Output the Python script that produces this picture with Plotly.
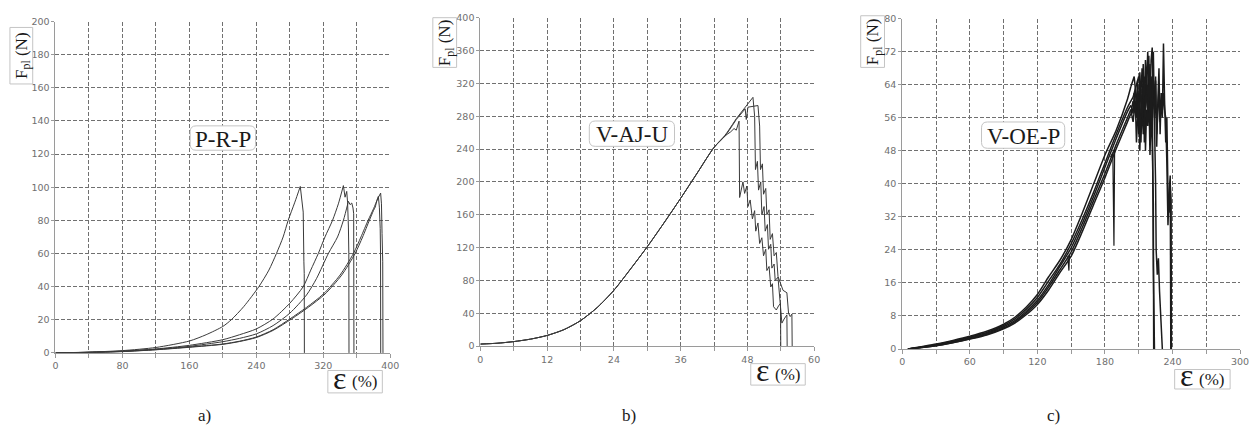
import plotly.graph_objects as go

W, H = 1252, 432

# ---------------- Panel a) P-R-P : strain (%) vs force (N) ----------------
a1_x = [0, 40, 80, 120, 160, 180, 200, 210, 225, 243, 255, 264, 272, 278, 286, 292.5, 294.5, 296, 296.8, 297.2, 297.4]
a1_y = [0, 0.5, 1.4, 3.3, 7.2, 11, 16, 20, 28, 40, 50, 60, 70, 80, 91, 100.5, 92, 85, 55, 48, 0]
a2_x = [0, 40, 80, 120, 160, 200, 220, 240, 260, 280, 296, 305, 314, 322, 331, 338, 344, 346, 348, 349, 350, 350.5,
        350.7]
a2_y = [0, 0.4, 1.1, 2.4, 4.6, 8.0, 11, 14.5, 20.5, 30, 40, 50, 60, 70, 80, 90, 101, 94, 97.5, 91, 76, 60, 0]
a3_x = [0, 40, 80, 120, 160, 200, 220, 240, 260, 280, 300, 312, 326, 337, 344, 350, 352, 354, 355.5, 356.3, 356.6]
a3_y = [0, 0.4, 1.0, 2.2, 4.0, 6.8, 8.8, 11.5, 16.5, 24, 35, 45, 60, 70, 80, 91.5, 89.5, 90.5, 87.5, 84, 0]
a4_x = [0, 40, 80, 120, 160, 200, 220, 240, 260, 280, 300, 320, 340, 356, 365, 373.5, 380, 385, 388.5, 389.5, 390.2,
        390.6, 391, 391.3]
a4_y = [0, 0.3, 0.9, 2.0, 3.6, 5.4, 7.1, 9.6, 14, 20.5, 27.5, 35.5, 47, 60, 70, 80, 87, 93, 96.5, 90, 72, 60, 55, 0]
a5_x = [0, 40, 80, 120, 160, 200, 220, 240, 260, 282, 302, 322, 342, 358, 367, 375, 380, 382, 384, 385.8, 387, 388,
        388.4, 388.6]
a5_y = [0, 0.3, 0.8, 1.9, 3.4, 5.2, 6.9, 9.3, 13.6, 20.5, 27.5, 35.5, 47, 60, 70, 80, 86, 88, 92, 94.5, 88, 75, 60, 0]

# ---------------- Panel b) V-AJ-U ----------------
b_rise_x = [0, 3, 6, 9, 12, 15, 18, 21, 24, 27, 30, 33, 36, 39, 42]
b_rise_y = [2.5, 3.5, 5.5, 8.5, 13, 20, 31, 47, 68, 94, 121, 150, 180, 211, 242]
bA_x = [44, 45, 45.6, 46.0, 46.5, 46.6, 47.2, 47.5, 47.9, 48.1, 48.5, 48.9, 49.3, 49.5, 49.9, 50.2, 50.6, 50.9, 51.3,
        51.5, 51.9, 52.2, 52.5, 52.7, 53.2, 53.6, 53.95, 54.0]
bA_y = [256, 261, 265, 263, 274, 181, 200, 186, 195, 170, 178, 155, 165, 140, 150, 125, 132, 110, 118,
        92, 97, 72, 76, 48, 44, 49, 52, 0]
bB_x = [44, 46, 47.5, 49.0, 49.3, 49.45, 49.8, 50.0, 50.4, 50.6, 51.0, 51.2, 51.6, 51.8, 52.2, 52.4, 52.8, 53.0, 53.5,
        53.8, 54.2, 54.6, 55.1, 55.15]
bB_y = [257, 277, 290, 303, 280, 215, 225, 190, 200, 160, 170, 140, 148, 118, 124, 95, 100, 80, 84,
        55, 28, 33, 38, 0]
bC_x = [44, 46, 47.6, 47.8, 48.1, 49.9, 50.2, 50.35, 50.7, 50.9, 51.3, 51.5, 51.9, 52.1, 52.5, 52.8, 53.2, 53.5, 53.8,
        54.4, 55.1, 55.4, 55.7, 56.0, 56.05]
bC_y = [256, 276, 289, 276, 291, 293, 268, 215, 222, 185, 192, 160, 166, 130, 137, 110, 114, 85, 80,
        68, 65, 40, 36, 39, 0]

# ---------------- Panel c) V-OE-P ----------------
c_base_x = [5, 15, 30, 45, 60, 75, 90, 100, 110, 120, 130, 140, 150, 160, 170, 180, 190, 200]
c1_base = [0, 0.5, 1.2, 2.1, 3.1, 4.3, 6.0, 7.7, 10.1, 13.2, 17.5, 21.5, 26.5, 33, 40, 47, 53, 60.5]
c2_base = [0, 0.4, 1.0, 1.9, 2.9, 4.0, 5.7, 7.3, 9.6, 12.5, 16.5, 20.5, 25.5, 31.5, 38, 45, 52, 58.5]
c3_base = [0, 0.4, 0.9, 1.8, 2.7, 3.8, 5.4, 6.9, 9.1, 11.8, 15.6, 20, 24.5, 30.5, 37, 44, 51, 57.5]
c4_base = [0, 0.3, 0.8, 1.6, 2.5, 3.6, 5.1, 6.6, 8.7, 11.3, 15, 19.2, 23.5, 29.5, 36, 42.5, 49.5, 56]
c5_base = [0, 0.3, 0.8, 1.5, 2.4, 3.4, 4.9, 6.3, 8.3, 10.8, 14.3, 18.5, 22.5, 28.5, 35, 41.5, 48.5, 55]
c1_tail_x = [203, 205, 206, 207, 208, 209, 210, 211, 212, 213, 214, 215, 216, 217, 218, 219, 220, 221, 222, 223, 223.3]
c1_tail_y = [63.5, 65.5, 66, 63, 58, 64, 55, 61, 50, 60, 52, 63, 48, 58, 54, 62, 47, 57, 50, 35, 0]
c2_tail_x = [205, 208, 210, 212, 213, 215, 216, 217, 218, 219, 220, 221, 222, 223, 224, 225, 225.5, 226.5, 227.5, 228.5,
             229.5, 230.5, 231]
c2_tail_y = [61, 64, 66, 62, 68, 60, 70, 63, 72, 65, 58, 70, 73, 62, 55, 40, 24, 18, 22, 14, 8, 5, 0]
c3_tail_x = [203, 205, 206, 208, 209, 210, 211, 213, 214, 215, 216, 218, 219, 220, 221, 222, 223, 224, 225, 226, 227,
             228, 229, 230, 231, 232, 233, 234, 235, 236, 237, 238, 238.8, 239]
c3_tail_y = [59, 57, 62, 56, 65, 52, 67, 55, 69, 50, 64, 58, 71, 53, 66, 60, 72, 56, 65, 49, 60,
             68, 52, 62, 56, 74, 60, 50, 56, 38, 33, 40, 36, 0]
c4_spike_x = [185, 187, 188, 188.6]
c4_spike_y = [46.5, 47.5, 25, 48.5]
c4_tail_x = [203, 205, 207, 208, 210, 211, 212, 214, 215, 217, 218, 220, 221, 222, 223, 224]
c4_tail_y = [58, 55, 60, 50, 62, 48, 58, 64, 52, 67, 57, 69, 55, 66, 20, 0]
c5_dip_x = [147, 148, 148.5]
c5_dip_y = [22.5, 19, 23]
c5_tail_x = [203, 205, 207, 209, 210, 212, 213, 215, 216, 218, 219, 220, 221, 222, 224, 225, 226, 227, 228, 229, 230,
             231, 232, 233, 234, 235, 236, 237, 238, 238.5]
c5_tail_y = [57, 60, 58, 62, 57, 63, 55, 66, 58, 64, 60, 67, 54, 62, 58, 66, 52, 60, 63, 55, 60,
             57, 62, 58, 56, 45, 30, 38, 42, 0]

titles = ["P-R-P", "V-AJ-U", "V-OE-P"]
panel_labels = ["a)", "b)", "c)"]

fig = go.Figure()
COL_AB = "#3a3a3a"
COL_C = "#1c1c1c"


def add_curve(xs, ys, split, xa, ya, color, width):
    """smooth (spline) part up to index `split`, straight segments after it"""
    fig.add_trace(go.Scatter(x=xs[:split + 1], y=ys[:split + 1], mode="lines",
                             line=dict(color=color, width=width, shape="spline", smoothing=0.7),
                             xaxis=xa, yaxis=ya, hoverinfo="skip"))
    fig.add_trace(go.Scatter(x=xs[split:], y=ys[split:], mode="lines",
                             line=dict(color=color, width=width),
                             xaxis=xa, yaxis=ya, hoverinfo="skip"))


for xs, ys in [(a1_x, a1_y), (a2_x, a2_y), (a3_x, a3_y), (a4_x, a4_y), (a5_x, a5_y)]:
    add_curve(xs, ys, ys.index(max(ys)), "x", "y", COL_AB, 1)

for tx, ty in [(bA_x, bA_y), (bB_x, bB_y), (bC_x, bC_y)]:
    add_curve(b_rise_x + tx, b_rise_y + ty, len(b_rise_x) + 1, "x2", "y2", COL_AB, 1)

c_sets = [
    (c1_base, c1_tail_x, c1_tail_y, None),
    (c2_base, c2_tail_x, c2_tail_y, None),
    (c3_base, c3_tail_x, c3_tail_y, None),
    (c4_base, c4_tail_x, c4_tail_y, (c4_spike_x, c4_spike_y)),
    (c5_base, c5_tail_x, c5_tail_y, (c5_dip_x, c5_dip_y)),
]
for base, tx, ty, extra in c_sets:
    add_curve(c_base_x + tx, base + ty, len(c_base_x), "x3", "y3", COL_C, 1.5)
    if extra is not None:
        fig.add_trace(go.Scatter(x=extra[0], y=extra[1], mode="lines", line=dict(color=COL_C, width=1.2),
                                 xaxis="x3", yaxis="y3", hoverinfo="skip"))

TICKFONT = dict(family="DejaVu Sans", size=9.5, color="#707070")
GRIDCOL = "#707070"
GRID = dict(showgrid=True, gridcolor=GRIDCOL, gridwidth=1, griddash="4px,2px")
LINE = dict(showline=True, linecolor="#9a9a9a", linewidth=1, zeroline=False,
            ticks="outside", tickcolor="#9a9a9a", tickfont=TICKFONT, fixedrange=True)


def xaxis(dom, xmax, step, lab, anchor):
    return dict(domain=[dom[0] / W, dom[1] / W], range=[0, xmax], tickmode="linear", tick0=0, dtick=lab,
                anchor=anchor, ticklen=4, **GRID, **LINE,
                minor=dict(dtick=step, tick0=0, showgrid=True, gridcolor=GRIDCOL, gridwidth=1, griddash="4px,2px",
                           ticks="outside", ticklen=4, tickcolor="#9a9a9a"))


def yaxis(dom, ymax, step, anchor):
    return dict(domain=[1 - dom[1] / H, 1 - dom[0] / H], range=[0, ymax], tickmode="linear", tick0=0, dtick=step,
                anchor=anchor, ticklen=3, **GRID, **LINE)


fig.update_layout(
    width=W, height=H, margin=dict(l=0, r=0, t=0, b=0),
    paper_bgcolor="white", plot_bgcolor="white", showlegend=False,
    xaxis=xaxis((53, 391), 400, 40, 80, "y"),
    yaxis=yaxis((16, 356), 200, 20, "x"),
    xaxis2=xaxis((482, 819), 60, 6, 12, "y2"),
    yaxis2=yaxis((12, 349), 400, 40, "x2"),
    xaxis3=xaxis((908, 1249), 300, 30, 60, "y3"),
    yaxis3=yaxis((13, 352), 80, 8, "x3"),
)


def px(x):
    return x / W


def py(y):
    return 1 - y / H


def rrect(x0, y0, x1, y1, r):
    X0, X1, Y0, Y1 = px(x0), px(x1), py(y0), py(y1)
    rx, ry = r / W, r / H
    return (f"M {X0+rx},{Y0} L {X1-rx},{Y0} Q {X1},{Y0} {X1},{Y0-ry} L {X1},{Y1+ry} Q {X1},{Y1} {X1-rx},{Y1} "
            f"L {X0+rx},{Y1} Q {X0},{Y1} {X0},{Y1+ry} L {X0},{Y0-ry} Q {X0},{Y0} {X0+rx},{Y0} Z")


BOXLINE = dict(color="#c4c4c4", width=1)
shapes = []
annots = []
SERIF = "Liberation Serif, Times New Roman, serif"

title_boxes = [(189, 123, 255, 148), (592, 118, 678, 144), (988, 119, 1072, 146)]
ytitle_boxes = [(7, 22, 30, 80), (434, 12, 458, 63), (866, 10, 890, 63)]
eps_boxes = [(328, 374, 383, 397), (755, 367, 810, 389), (1183, 373, 1239, 393)]
label_pos = [(203, 420), (632, 420), (1061, 420)]


def ann(x, y, text, size, **kw):
    d = dict(xref="paper", yref="paper", x=px(x), y=py(y), text=text, showarrow=False,
             xanchor="center", yanchor="middle", font=dict(family=SERIF, size=size, color="#1a1a1a"))
    d.update(kw)
    annots.append(d)


for i in range(3):
    x0, y0, x1, y1 = title_boxes[i]
    shapes.append(dict(type="path", xref="paper", yref="paper", path=rrect(x0, y0, x1, y1, 6),
                       line=BOXLINE, fillcolor="white", layer="above"))
    ann((x0 + x1) / 2, (y0 + y1) / 2 + 1, titles[i], 23)

    x0, y0, x1, y1 = ytitle_boxes[i]
    shapes.append(dict(type="rect", xref="paper", yref="paper", x0=px(x0), x1=px(x1), y0=py(y0), y1=py(y1),
                       line=BOXLINE, fillcolor="white", layer="above"))
    ann((x0 + x1) / 2 + 1, (y0 + y1) / 2, "F<sub>pl</sub> (N)", 17, textangle=-90)

    x0, y0, x1, y1 = eps_boxes[i]
    shapes.append(dict(type="rect", xref="paper", yref="paper", x0=px(x0), x1=px(x1), y0=py(y0), y1=py(y1),
                       line=BOXLINE, fillcolor="white", layer="above"))
    cy = (y0 + y1) / 2
    ann(x0 + 12, cy - 4, "ε", 32)
    ann(x0 + 37, cy, "(%)", 17)

    lx, ly = label_pos[i]
    ann(lx, ly, panel_labels[i], 17)

fig.update_layout(shapes=shapes, annotations=annots)
fig.write_html("out.html")
